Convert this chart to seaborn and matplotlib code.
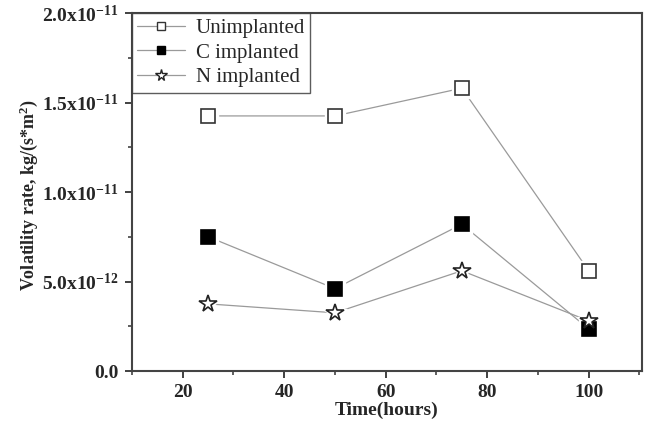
import matplotlib
matplotlib.use("Agg")
import matplotlib.pyplot as plt
from matplotlib.lines import Line2D
from matplotlib.ticker import MultipleLocator, FixedLocator
import seaborn as sns
import pandas as pd

time_h = [25, 50, 75, 100]
unimplanted = [1.425e-11, 1.425e-11, 1.58e-11, 0.56e-11]
c_implanted = [0.75e-11, 0.46e-11, 0.82e-11, 0.235e-11]
n_implanted = [0.375e-11, 0.325e-11, 0.56e-11, 0.28e-11]
series_names = ["Unimplanted", "C implanted", "N implanted"]
y_ticks = [0.0, 0.5e-11, 1.0e-11, 1.5e-11, 2.0e-11]
y_tick_labels = ["0.0", r"5.0x10$^{-12}$", r"1.0x10$^{-11}$", r"1.5x10$^{-11}$", r"2.0x10$^{-11}$"]
x_ticks = [20, 40, 60, 80, 100]

sns.set_theme(style="ticks")
plt.rcParams["font.family"] = ["Liberation Serif", "DejaVu Serif"]
plt.rcParams["mathtext.fontset"] = "custom"
plt.rcParams["mathtext.rm"] = "Liberation Serif:bold"
plt.rcParams["mathtext.bf"] = "Liberation Serif:bold"
plt.rcParams["mathtext.it"] = "Liberation Serif:bold"

df = pd.DataFrame({
    "time": time_h * 3,
    "rate": unimplanted + c_implanted + n_implanted,
    "series": [s for s in series_names for _ in time_h],
})

fig = plt.figure(figsize=(6.46, 4.29), dpi=100)
ax = fig.add_axes([132/646, 1 - 371/429, (642-132)/646, (371-13)/429])

styles = {
    "Unimplanted": dict(marker="s", mfc="white", mec="#333333", ms=9.5),
    "C implanted": dict(marker="s", mfc="black", mec="black", ms=9.5),
    "N implanted": dict(marker="*", mfc="white", mec="#222222", ms=13),
}
line_color = "#9a9a9a"

for name in series_names:
    sub = df[df["series"] == name]
    sns.lineplot(data=sub, x="time", y="rate", ax=ax, color=line_color,
                 lw=0.9, legend=False, estimator=None, sort=False)
for name in series_names:
    sub = df[df["series"] == name]
    st = styles[name]
    ax.plot(sub["time"], sub["rate"], ls="none", marker=st["marker"],
            ms=st["ms"] + 5, mfc="white", mec="white", zorder=3)
for name in series_names:
    sub = df[df["series"] == name]
    st = styles[name]
    ax.plot(sub["time"], sub["rate"], ls="none", marker=st["marker"],
            ms=st["ms"], mfc=st["mfc"], mec=st["mec"], mew=1.2, zorder=4)

ax.set_xlim(10, 110.5)
ax.set_ylim(0, 2.0e-11)
ax.xaxis.set_major_locator(FixedLocator(x_ticks))
ax.xaxis.set_minor_locator(MultipleLocator(10))
ax.yaxis.set_major_locator(FixedLocator(y_ticks))
ax.yaxis.set_minor_locator(MultipleLocator(0.25e-11))
ax.set_yticklabels(y_tick_labels)
ax.set_xticklabels([str(t) for t in x_ticks])
for lbl in ax.get_xticklabels() + ax.get_yticklabels():
    lbl.set_fontweight("bold")
    lbl.set_fontsize(14)

ax.tick_params(which="major", direction="out", length=5, width=1.3, color="#333333", pad=4.5)
ax.tick_params(which="minor", direction="out", length=3, width=1.1, color="#333333")
ax.tick_params(top=False, right=False)
for sp in ax.spines.values():
    sp.set_visible(True)
    sp.set_color("#444444")
    sp.set_linewidth(1.5)

ax.set_xlabel("Time(hours)", fontsize=14, fontweight="bold")
ax.xaxis.set_label_coords(0.5, -0.085)
ax.set_ylabel(r"Volatility rate, kg/(s*m$^2$)", fontsize=13, fontweight="bold")
ax.yaxis.set_label_coords(-0.18, 0.49)

handles = []
for name in series_names:
    st = styles[name]
    handles.append(Line2D([0], [0], color=line_color, lw=0.9, marker=st["marker"],
                          ms=st["ms"] * 0.65, mfc=st["mfc"], mec=st["mec"], mew=1.0))
leg = ax.legend(handles, series_names, loc="upper left", fontsize=15,
                frameon=True, fancybox=False, borderaxespad=0, handlelength=2.3,
                handletextpad=0.5, borderpad=0.25, labelspacing=0.25)
leg.get_frame().set_edgecolor("#333333")
leg.get_frame().set_linewidth(1.0)

fig.savefig("out.png", dpi=100)
